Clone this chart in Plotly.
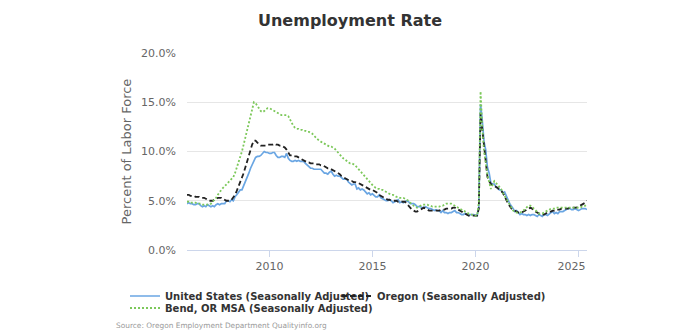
import pandas as pd
import plotly.graph_objects as go

# Monthly unemployment rate (%), Jan 2006 - Jun 2025
us_rate = [
    4.7, 4.8, 4.7, 4.7, 4.6, 4.6, 4.7, 4.7, 4.5, 4.4, 4.5, 4.4,   # 2006
    4.6, 4.5, 4.4, 4.5, 4.4, 4.6, 4.7, 4.6, 4.7, 4.7, 4.7, 5.0,   # 2007
    5.0, 4.9, 5.1, 5.0, 5.4, 5.6, 5.8, 6.1, 6.1, 6.5, 6.8, 7.3,   # 2008
    7.8, 8.3, 8.7, 9.0, 9.4, 9.5, 9.5, 9.6, 9.8, 10.0, 9.9, 9.9,  # 2009
    9.8, 9.8, 9.9, 9.9, 9.6, 9.4, 9.4, 9.5, 9.5, 9.4, 9.8, 9.3,   # 2010
    9.1, 9.0, 9.0, 9.1, 9.0, 9.1, 9.0, 9.0, 9.0, 8.8, 8.6, 8.5,   # 2011
    8.3, 8.3, 8.2, 8.2, 8.2, 8.2, 8.2, 8.0, 7.8, 7.8, 7.7, 7.9,   # 2012
    8.0, 7.7, 7.5, 7.6, 7.5, 7.5, 7.3, 7.2, 7.2, 7.2, 6.9, 6.7,   # 2013
    6.6, 6.7, 6.7, 6.2, 6.3, 6.1, 6.2, 6.1, 5.9, 5.7, 5.8, 5.6,   # 2014
    5.7, 5.5, 5.4, 5.4, 5.6, 5.3, 5.2, 5.1, 5.0, 5.0, 5.1, 5.0,   # 2015
    4.8, 4.9, 5.0, 5.1, 4.8, 4.9, 4.8, 4.9, 5.0, 4.9, 4.7, 4.7,   # 2016
    4.7, 4.6, 4.4, 4.4, 4.4, 4.3, 4.3, 4.4, 4.3, 4.2, 4.2, 4.1,   # 2017
    4.0, 4.1, 4.0, 4.0, 3.8, 4.0, 3.8, 3.8, 3.7, 3.8, 3.8, 3.9,   # 2018
    4.0, 3.8, 3.8, 3.7, 3.6, 3.6, 3.7, 3.6, 3.5, 3.6, 3.6, 3.6,   # 2019
    3.5, 3.5, 4.4, 14.8, 13.2, 11.0, 10.2, 8.4, 7.8, 6.8, 6.7, 6.7,  # 2020
    6.4, 6.2, 6.1, 6.1, 5.8, 5.9, 5.4, 5.1, 4.7, 4.5, 4.2, 3.9,   # 2021
    4.0, 3.8, 3.6, 3.7, 3.6, 3.6, 3.5, 3.6, 3.5, 3.6, 3.6, 3.5,   # 2022
    3.4, 3.6, 3.5, 3.4, 3.6, 3.6, 3.5, 3.7, 3.8, 3.9, 3.7, 3.8,   # 2023
    3.7, 3.9, 3.9, 3.9, 4.0, 4.1, 4.2, 4.2, 4.1, 4.1, 4.2, 4.1,   # 2024
    4.0, 4.1, 4.2, 4.2, 4.2, 4.1,                                 # 2025
]

oregon_rate = [
    5.6, 5.6, 5.5, 5.5, 5.5, 5.4, 5.4, 5.4, 5.3, 5.3, 5.3, 5.2,   # 2006
    5.1, 5.0, 5.0, 5.0, 5.1, 5.2, 5.3, 5.3, 5.3, 5.2, 5.1, 5.0,   # 2007
    5.0, 5.0, 5.1, 5.3, 5.6, 6.0, 6.4, 6.9, 7.3, 7.8, 8.4, 9.0,   # 2008
    9.6, 10.2, 10.7, 11.1, 11.1, 10.9, 10.7, 10.6, 10.6, 10.6, 10.6, 10.7,  # 2009
    10.7, 10.7, 10.7, 10.8, 10.7, 10.7, 10.6, 10.6, 10.5, 10.4, 10.2, 9.9,  # 2010
    9.6, 9.6, 9.5, 9.5, 9.5, 9.4, 9.3, 9.2, 9.1, 9.0, 8.9, 8.9,   # 2011
    8.8, 8.8, 8.8, 8.7, 8.7, 8.7, 8.6, 8.6, 8.5, 8.4, 8.3, 8.3,   # 2012
    8.2, 8.1, 8.0, 7.9, 7.8, 7.7, 7.5, 7.4, 7.3, 7.2, 7.1, 7.0,   # 2013
    7.0, 6.9, 6.9, 6.8, 6.8, 6.7, 6.6, 6.5, 6.4, 6.3, 6.2, 6.1,   # 2014
    6.1, 6.0, 5.9, 5.8, 5.6, 5.5, 5.4, 5.3, 5.2, 5.1, 5.1, 5.0,   # 2015
    5.0, 5.0, 5.0, 4.9, 4.9, 4.9, 4.9, 4.9, 4.7, 4.5, 4.3, 4.1,   # 2016
    4.0, 3.9, 3.9, 4.0, 4.1, 4.2, 4.3, 4.2, 4.1, 4.0, 4.0, 4.0,   # 2017
    4.0, 4.0, 4.0, 4.0, 4.1, 4.1, 4.1, 4.2, 4.2, 4.2, 4.2, 4.3,   # 2018
    4.3, 4.2, 4.1, 4.0, 3.9, 3.8, 3.7, 3.6, 3.5, 3.5, 3.5, 3.5,   # 2019
    3.5, 3.5, 4.2, 13.9, 12.3, 10.6, 8.9, 7.4, 7.0, 6.7, 6.6, 6.5,  # 2020
    6.4, 6.3, 6.1, 6.0, 5.8, 5.5, 5.1, 4.7, 4.4, 4.2, 4.1, 4.0,   # 2021
    3.9, 3.8, 3.8, 3.8, 3.9, 4.0, 4.1, 4.2, 4.3, 4.2, 4.1, 3.9,   # 2022
    3.8, 3.7, 3.7, 3.6, 3.6, 3.7, 3.8, 3.9, 3.9, 4.0, 4.0, 4.1,   # 2023
    4.1, 4.1, 4.2, 4.2, 4.2, 4.2, 4.2, 4.3, 4.3, 4.3, 4.3, 4.3,   # 2024
    4.4, 4.5, 4.6, 4.7, 4.8, 5.0,                                 # 2025
]

bend_rate = [
    4.9, 4.9, 4.8, 4.8, 4.8, 4.8, 4.7, 4.7, 4.7, 4.6, 4.6, 4.6,   # 2006
    4.6, 4.6, 4.7, 4.9, 5.1, 5.3, 5.6, 5.9, 6.1, 6.3, 6.5, 6.7,   # 2007
    6.9, 7.0, 7.2, 7.4, 7.8, 8.3, 8.9, 9.4, 10.0, 10.7, 11.4, 12.2,  # 2008
    12.8, 13.6, 14.4, 15.0, 14.9, 14.6, 14.3, 14.1, 14.0, 14.1, 14.3, 14.4,  # 2009
    14.4, 14.3, 14.2, 14.1, 14.0, 13.9, 13.8, 13.7, 13.7, 13.7, 13.7, 13.6,  # 2010
    13.2, 12.9, 12.6, 12.4, 12.3, 12.3, 12.2, 12.2, 12.1, 12.1, 12.0, 12.0,  # 2011
    11.9, 11.8, 11.6, 11.4, 11.2, 11.1, 11.0, 10.9, 10.8, 10.7, 10.6, 10.5,  # 2012
    10.5, 10.4, 10.3, 10.1, 9.9, 9.7, 9.5, 9.3, 9.2, 9.0, 8.9, 8.8,  # 2013
    8.8, 8.7, 8.6, 8.4, 8.2, 8.0, 7.8, 7.5, 7.3, 7.1, 6.9, 6.8,   # 2014
    6.6, 6.4, 6.3, 6.2, 6.2, 6.1, 6.1, 6.0, 5.9, 5.8, 5.7, 5.6,   # 2015
    5.6, 5.5, 5.4, 5.4, 5.3, 5.3, 5.3, 5.2, 5.1, 5.0, 4.8, 4.6,   # 2016
    4.5, 4.4, 4.3, 4.4, 4.5, 4.6, 4.6, 4.6, 4.6, 4.5, 4.5, 4.4,   # 2017
    4.4, 4.4, 4.4, 4.4, 4.5, 4.5, 4.6, 4.7, 4.7, 4.7, 4.7, 4.6,   # 2018
    4.5, 4.4, 4.3, 4.2, 4.1, 4.0, 3.9, 3.8, 3.7, 3.6, 3.6, 3.5,   # 2019
    3.5, 3.5, 4.8, 16.1, 12.5, 10.0, 8.9, 7.6, 6.9, 6.2, 6.6, 7.0,  # 2020
    6.8, 6.6, 6.5, 6.2, 5.8, 5.5, 5.1, 4.8, 4.5, 4.2, 4.0, 3.9,   # 2021
    3.8, 3.8, 3.8, 3.9, 4.0, 4.2, 4.4, 4.5, 4.5, 4.4, 4.2, 4.0,   # 2022
    3.8, 3.7, 3.7, 3.7, 3.8, 3.9, 4.0, 4.1, 4.2, 4.2, 4.2, 4.3,   # 2023
    4.3, 4.3, 4.3, 4.3, 4.3, 4.3, 4.3, 4.3, 4.3, 4.3, 4.3, 4.3,   # 2024
    4.3, 4.3, 4.4, 4.4, 4.5, 4.6,                                 # 2025
]

series_names = [
    "United States (Seasonally Adjusted)",
    "Oregon (Seasonally Adjusted)",
    "Bend, OR MSA (Seasonally Adjusted)",
]
y_ticks = [0, 5, 10, 15, 20]
y_tick_labels = ["0.0%", "5.0%", "10.0%", "15.0%", "20.0%"]
x_tick_years = ["2010-01-01", "2015-01-01", "2020-01-01", "2025-01-01"]
# last label is kept inside the plot edge, as in the reference
x_tick_labels = ["2010", "2015", "2020", "2025\u2007\u2007"]

dates = pd.date_range("2006-01-01", periods=len(us_rate), freq="MS")

FONT = "DejaVu Sans"
W, H = 700, 335
L, R, T, B = 187, 113, 53, 85

fig = go.Figure()
fig.add_trace(go.Scatter(
    x=dates, y=us_rate, name=series_names[0], mode="lines",
    line=dict(color="#6aa6e3", width=1.7), legend="legend"))
fig.add_trace(go.Scatter(
    x=dates, y=oregon_rate, name=series_names[1], mode="lines",
    line=dict(color="#222222", width=1.8, dash="5px,3px"), legend="legend2"))
fig.add_trace(go.Scatter(
    x=dates, y=bend_rate, name=series_names[2], mode="lines",
    line=dict(color="#7cc85a", width=1.8, dash="2px,2px"), legend="legend3"))

legend_common = dict(
    orientation="h", xref="container", yref="container",
    xanchor="left", yanchor="middle",
    font=dict(family=FONT, size=10, color="#333333", weight="bold"),
    bgcolor="rgba(0,0,0,0)", itemwidth=30, tracegroupgap=0,
)

fig.update_layout(
    width=W, height=H,
    margin=dict(l=L, r=R, t=T, b=B, autoexpand=False),
    paper_bgcolor="white", plot_bgcolor="white",
    title=dict(text="<b>Unemployment Rate</b>", x=0.5, xanchor="center",
               y=1 - 20 / H, yanchor="middle",
               font=dict(family=FONT, size=16, color="#333333")),
    showlegend=True,
    legend=dict(x=125 / W, y=1 - 296 / H, **legend_common),
    legend2=dict(x=337 / W, y=1 - 296 / H, **legend_common),
    legend3=dict(x=125 / W, y=1 - 308 / H, **legend_common),
    xaxis=dict(
        range=["2006-01-01", "2025-06-01"],
        tickmode="array", tickvals=x_tick_years, ticktext=x_tick_labels,
        showgrid=False, zeroline=False,
        showline=True, linecolor="#ccd6eb", linewidth=1,
        ticks="outside", ticklen=6, tickcolor="#ccd6eb", tickwidth=1,
        tickfont=dict(family=FONT, size=11, color="#666666"),
    ),
    yaxis=dict(
        range=[0, 20], tickmode="array", tickvals=y_ticks, ticktext=y_tick_labels,
        showgrid=True, gridcolor="#e6e6e6", gridwidth=1, zeroline=False,
        showline=False, ticks="", ticklabelstandoff=10,
        tickfont=dict(family=FONT, size=11, color="#666666"),
        title=dict(text="Percent of Labor Force", standoff=6,
                   font=dict(family=FONT, size=13, color="#666666")),
    ),
    annotations=[dict(
        text="Source: Oregon Employment Department Qualityinfo.org",
        xref="paper", yref="paper", x=(114 - L) / (W - L - R), y=-(325 - (H - B)) / (H - T - B),
        xanchor="left", yanchor="middle", showarrow=False,
        font=dict(family=FONT, size=7.4, color="#999999"),
    )],
)

fig.write_html("out.html")
